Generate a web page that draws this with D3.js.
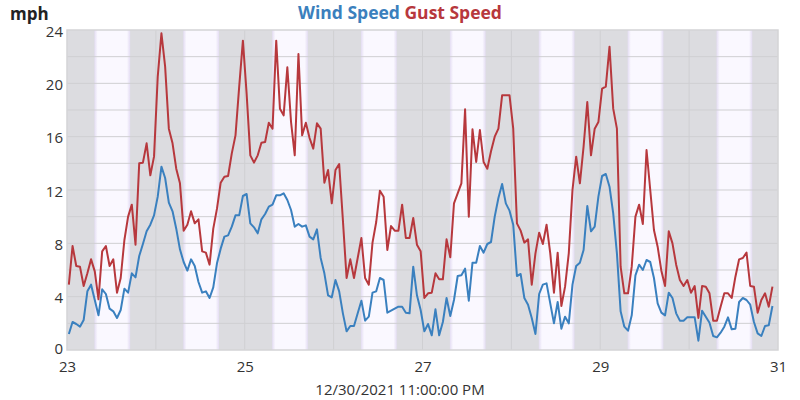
<!DOCTYPE html>
<html><head><meta charset="utf-8">
<script src="https://cdn.jsdelivr.net/npm/d3@7"></script>
<style>
body{margin:0;background:#fff;}
text{font-family:"Open Sans",sans-serif;}
</style></head>
<body><svg id="c" width="800" height="400"></svg>
<script>
// hourly readings starting 12/23/2021 00:30
const gust = [4.9,7.8,6.3,6.25,4.8,5.75,6.8,5.9,3.8,7.4,
7.8,6.3,6.8,4.3,5.4,8.25,10,10.9,7.9,14,
14.05,15.5,13.1,14.5,20.5,23.75,21.25,16.6,15.5,13.6,
12.5,8.95,9.4,10.4,9.5,9.8,7.4,7.3,6.4,9.1,
10.6,12.55,13,13.05,14.75,16.1,19.75,23.2,19.25,14.6,
14.05,14.6,15.55,15.6,17.05,16.6,23.2,18.1,17.6,21.2,
17.1,14.6,22.2,16.1,17.05,15.9,
15.1,17,16.6,12.55,13.5,11,13.5,13.95,9.75,5.4,
6.8,5.4,6.9,8.4,5.4,4.9,8.05,9.6,11.95,11.5,
7.5,9.3,8.95,8.95,10.9,8.4,8.4,9.9,7.9,7.4,
3.9,4.25,4.3,5.75,5.3,5.3,8.3,6.95,11,11.75,
12.5,18.05,10,16.55,14.1,16.5,14.1,13.6,14.9,16,
16.6,19.1,19.1,19.1,16.6,9.5,8.95,8.05,8.3,4.9,
7.25,8.8,7.95,9.4,7.25,
4.3,7.3,3.3,4.75,7.25,12,14.5,12.5,15.25,18.6,
14.6,16.6,17.1,19.6,19.75,22.75,18.1,16.6,6.25,4.25,
4.25,6.25,10,10.9,9.45,15,12,9,7.75,5.95,
4.8,8.9,8,6.4,5.25,4.8,5.25,4.3,4.8,2.4,
4.8,4.75,4.25,2.2,2.2,3.25,4.25,4.25,3.9,5.5,
6.8,6.9,7.3,4.8,4.75,2.8,3.75,4.25,3.25,4.75];
const wind = [1.2,2.1,1.95,1.75,2.25,4.4,4.9,3.75,2.6,4.55,
4.2,3.1,2.9,2.4,3.0,4.6,4.3,5.75,5.45,7.05,
7.95,8.9,9.4,10.1,11.5,13.75,12.9,11.05,10.4,9.1,
7.55,6.6,5.95,6.8,6.3,5.1,4.3,4.4,3.9,4.7,
6.5,7.6,8.5,8.6,9.25,10.1,10.1,11.55,11.7,9.5,
9.2,8.75,9.8,10.2,10.75,10.9,11.6,11.6,11.75,11.25,
10.5,9.25,9.45,9.25,9.35,8.5,
8.3,9.05,6.9,5.75,4.1,3.95,5.25,4.4,2.75,1.4,
1.8,1.8,2.75,3.7,2.2,2.5,4.3,4.4,5.4,5.25,
2.8,2.95,3.1,3.25,3.25,2.8,2.75,6.25,4.1,3.0,
1.4,1.95,1.1,3.05,1.1,2.1,3.9,2.55,3.75,5.55,
5.6,6.1,3.7,6.55,6.55,7.8,7.3,7.95,8.1,10,
11.4,12.45,11,10.45,9.4,5.55,5.7,3.9,3.4,2.4,
1.2,4.2,4.9,5.0,3.5,
2.0,3.6,1.6,2.5,2.0,4.9,6.3,6.55,7.5,10.8,
8.9,9.25,11.5,13.05,13.2,12.25,10.25,7.25,2.9,1.75,
1.45,2.6,5.6,6.4,6.0,6.75,6.6,5.4,3.5,2.8,
2.6,4.3,3.9,2.75,2.2,2.2,2.45,2.45,2.45,0.7,
2.95,2.5,2.05,1.05,0.95,1.3,1.75,2.45,1.55,1.6,
3.6,3.9,3.75,3.4,2.1,1.25,1.05,1.8,1.85,3.3];
const days = [23,24,25,26,27,28,29,30];
const sunrise = 7.4, sunset = 17.05; // hours
const yTicks = [0,4,8,12,16,20,24];
const titleParts = [{t:"Wind Speed",c:"#3b80bd"},{t:" Gust Speed",c:"#b7383d"}];
const yUnit = "mph";
const xLabel = "12/30/2021 11:00:00 PM";

const start = new Date(2021,11,23,0,30);
const times = wind.map((_,i)=>new Date(start.getTime()+i*3600e3));

const L=67,R=778,T=30,B=350;
const svg = d3.select("#c");
const x = d3.scaleTime().domain([new Date(2021,11,23),new Date(2021,11,31)]).range([L,R]);
const y = d3.scaleLinear().domain([0,24]).range([B,T]);

const defs = svg.append("defs");
const g = defs.append("linearGradient").attr("id","dayg").attr("x1","0").attr("x2","1").attr("y1","0").attr("y2","0");
[[0,"#e4ddf3"],[0.09,"#faf8ff"],[0.91,"#faf8ff"],[1,"#e4ddf3"]].forEach(s=>g.append("stop").attr("offset",s[0]).attr("stop-color",s[1]));

svg.append("rect").attr("x",L).attr("y",T).attr("width",R-L).attr("height",B-T).attr("fill","#dcdce0");
svg.selectAll("rect.day").data(days).join("rect").attr("class","day")
  .attr("x",d=>x(new Date(2021,11,d,0,sunrise*60)))
  .attr("width",d=>x(new Date(2021,11,d,0,sunset*60))-x(new Date(2021,11,d,0,sunrise*60)))
  .attr("y",T).attr("height",B-T).attr("fill","url(#dayg)");

// grid
const gridDays = d3.timeDay.range(new Date(2021,11,24),new Date(2021,11,31));
svg.append("g").selectAll("line").data(gridDays).join("line")
  .attr("x1",d=>x(d)).attr("x2",d=>x(d)).attr("y1",T).attr("y2",B)
  .attr("stroke","#cfcfd2").attr("stroke-width",1);
svg.append("g").selectAll("line").data(d3.range(2,24,2)).join("line")
  .attr("x1",L).attr("x2",R).attr("y1",d=>y(d)).attr("y2",d=>y(d))
  .attr("stroke","#cfcfd2").attr("stroke-width",1);
svg.append("rect").attr("x",L).attr("y",T).attr("width",R-L).attr("height",B-T)
  .attr("fill","none").attr("stroke","#d4d4d6").attr("stroke-width",1.5);

const line = d3.line().x((d,i)=>x(times[i])).y(d=>y(d));
svg.append("path").datum(gust).attr("d",line).attr("fill","none").attr("stroke","#b7383d").attr("stroke-width",2).attr("stroke-linejoin","round");
svg.append("path").datum(wind).attr("d",line).attr("fill","none").attr("stroke","#3a80bf").attr("stroke-width",2).attr("stroke-linejoin","round");

// axes
const ya = svg.append("g").attr("transform",`translate(${L-4},0)`)
  .call(d3.axisLeft(y).tickValues(yTicks).tickSize(0).tickPadding(0));
ya.select(".domain").remove();
ya.selectAll("text").attr("font-size",15).attr("fill","#333").attr("font-family","Open Sans")
  .attr("dy",d=>d===0?"0.2em":"0.42em");

const xa = svg.append("g").attr("transform",`translate(0,${B})`)
  .call(d3.axisBottom(x).ticks(d3.timeDay.every(2)).tickFormat(d3.timeFormat("%-d")).tickSize(0).tickPadding(11));
xa.select(".domain").remove();
xa.selectAll("text").attr("font-size",15).attr("fill","#333").attr("font-family","Open Sans");

const tt = svg.append("text").attr("x",400).attr("y",18.5).attr("text-anchor","middle")
  .attr("font-size",17.5).attr("font-weight","bold");
titleParts.forEach(p=>tt.append("tspan").attr("fill",p.c).text(p.t));

svg.append("text").attr("x",10).attr("y",20).attr("font-size",17).attr("font-weight","bold").attr("fill","#222").text(yUnit);
svg.append("text").attr("x",400).attr("y",395).attr("text-anchor","middle").attr("font-size",15).attr("fill","#333").text(xLabel);
</script></body></html>
